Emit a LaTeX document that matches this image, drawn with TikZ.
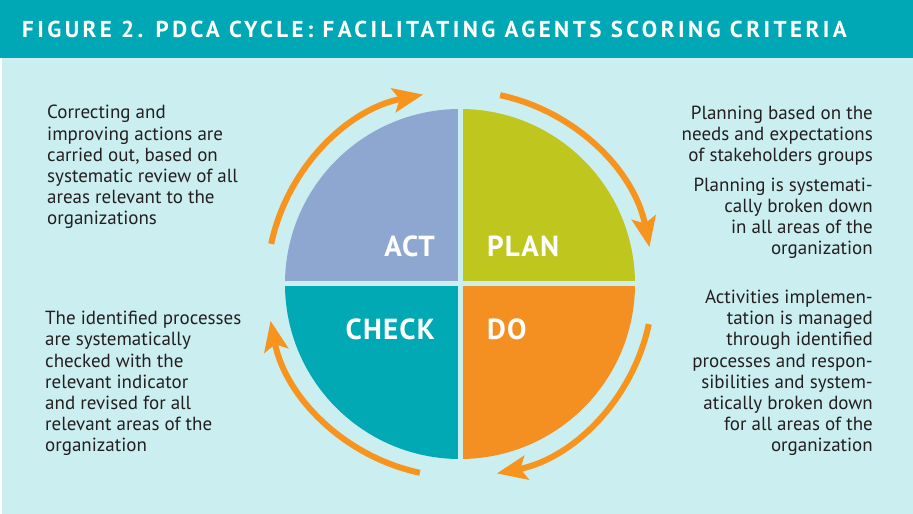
\documentclass[tikz,border=0pt]{standalone}
\usepackage{fontspec}
\setmainfont{PT Sans}
\newfontfamily\titleFont[LetterSpace=15]{PT Sans}
\newfontfamily\quadFont[LetterSpace=4]{PT Sans}
\usetikzlibrary{arrows.meta}

\definecolor{bgCyan}{HTML}{CBEEF0}
\definecolor{titleTeal}{HTML}{00A8B5}
\definecolor{actBlue}{HTML}{8DA7D0}
\definecolor{planGreen}{HTML}{BFC71F}
\definecolor{checkTeal}{HTML}{00A9B4}
\definecolor{doOrange}{HTML}{F48F21}
\definecolor{arrowOrange}{HTML}{F7941E}
\definecolor{textDark}{HTML}{231F20}

\tikzstyle{sideText}=[inner sep=0pt, text=textDark, font=\fontsize{19}{21.2}\selectfont]
\tikzstyle{quadLabel}=[inner sep=0pt, text=white, font=\quadFont\fontsize{29}{32}\selectfont\bfseries]
\tikzstyle{cycleArrow}=[-{Stealth[length=30pt,width=24pt,inset=6pt]}, line width=6pt, arrowOrange]

\begin{document}
\begin{tikzpicture}[x=1pt,y=1pt]
	\useasboundingbox (0,0) rectangle (913,514);
	\fill[white] (0,0) rectangle (913,514);
	\fill[bgCyan] (2,0) rectangle (913,456);
	\fill[titleTeal] (0,456) rectangle (913,514);
	\node[anchor=base west, inner sep=0pt, text=white, font=\titleFont\fontsize{23}{26}\selectfont\bfseries] (title) at (22,476) {FIGURE 2. PDCA CYCLE: FACILITATING AGENTS SCORING CRITERIA};
	
	\coordinate (c) at (460,230);
	\fill[actBlue] (c) -- ++(180:175) arc[start angle=180, end angle=90, radius=175] -- cycle;
	\fill[planGreen] (c) -- ++(90:175) arc[start angle=90, end angle=0, radius=175] -- cycle;
	\fill[doOrange] (c) -- ++(0:175) arc[start angle=0, end angle=-90, radius=175] -- cycle;
	\fill[checkTeal] (c) -- ++(-90:175) arc[start angle=-90, end angle=-180, radius=175] -- cycle;
	\draw[bgCyan, line width=5pt] ([xshift=-180]c) -- ([xshift=180]c);
	\draw[bgCyan, line width=5pt] ([yshift=-180]c) -- ([yshift=180]c);
	
	\draw[cycleArrow] ([shift={(168:193)}]c) arc[start angle=168, end angle=101, radius=193];
	\draw[cycleArrow] ([shift={(78:193)}]c) arc[start angle=78, end angle=11, radius=193];
	\draw[cycleArrow] ([shift={(-12:193)}]c) arc[start angle=-12, end angle=-79, radius=193];
	\draw[cycleArrow] ([shift={(-102:193)}]c) arc[start angle=-102, end angle=-169, radius=193];
	
	\node[quadLabel, anchor=base east] (act) at (435,257) {ACT};
	\node[quadLabel, anchor=base west] (plan) at (487,257) {PLAN};
	\node[quadLabel, anchor=base east] (check) at (435,174) {CHECK};
	\node[quadLabel, anchor=base west] (do) at (487,174) {DO};
	
	\node[sideText, align=left, anchor=base west] (actText) at (47,289) {Correcting and\\improving actions are\\carried out, based on\\systematic review of all\\areas relevant to the\\organizations};
	\node[sideText, align=right, anchor=base east] (planText) at (873,352) {Planning based on the\\needs and expectations\\of stakeholders groups};
	\node[sideText, align=right, anchor=base east] (planSplitText) at (873,259) {Planning is systemati-\\cally broken down\\in all areas of the\\organization};
	\node[sideText, align=left, anchor=base west] (checkText) at (45,62) {The identified processes\\are systematically\\checked with the\\relevant indicator\\and revised for all\\relevant areas of the\\organization};
	\node[sideText, align=right, anchor=base east] (doText) at (873,62) {Activities implemen-\\tation is managed\\through identified\\processes and respon-\\sibilities and system-\\atically broken down\\for all areas of the\\organization};
\end{tikzpicture}
\end{document}
